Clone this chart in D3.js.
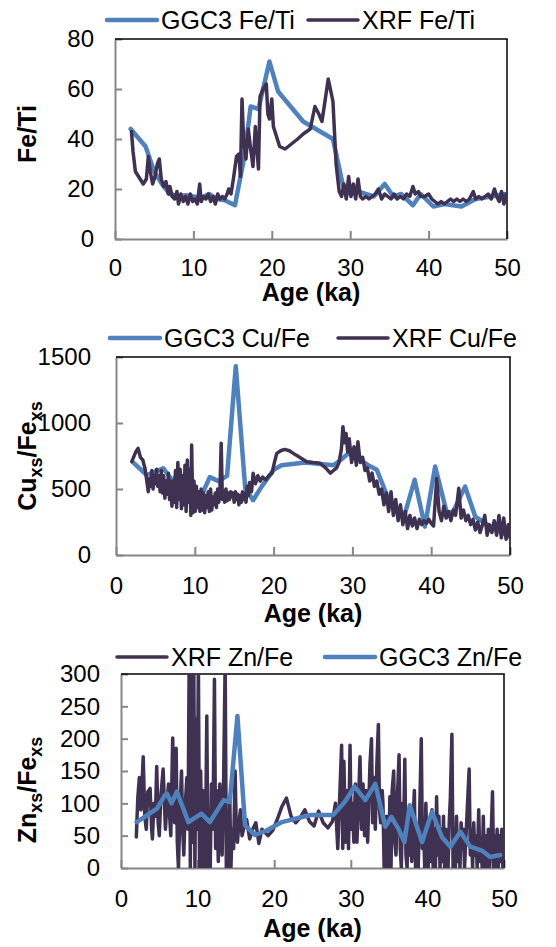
<!DOCTYPE html>
<html><head><meta charset="utf-8">
<script src="https://cdn.jsdelivr.net/npm/d3@7"></script>
<style>body{margin:0;background:#fff}svg{display:block}</style>
</head><body>
<script>
// ---------- DATA ----------
const xTicks = [0, 10, 20, 30, 40, 50];
const feTiTicks = [0, 20, 40, 60, 80];
const cuFeTicks = [0, 500, 1000, 1500];
const znFeTicks = [0, 50, 100, 150, 200, 250, 300];

const ggc3FeTi = [[2.0,44],[3.9,37],[5.0,27],[6.0,22],[7.0,18],[8.0,17],[9.0,17.5],[10.0,17],[11.0,16.5],[12.0,18],[13.0,16],[14.0,15.5],[15.3,13.5],[16.5,33],[17.3,53],[18.3,52],[19.7,71],[20.8,59],[24.0,47],[27.8,40],[29.1,21],[30.0,18],[31.0,19],[32.0,18],[33.0,17],[34.4,22],[35.5,17],[36.5,18],[38.0,13.5],[39.0,18],[40.6,13],[42.0,14],[44.2,13],[46.0,16],[48.0,17],[49.7,18]];
const xrfFeTi = [[2.1,43],[2.3,35],[2.6,27],[3.0,25],[3.6,22],[4.0,24],[4.25,33],[4.5,27],[4.8,22],[5.1,25],[5.4,30],[5.65,32],[5.9,24],[6.2,21],[6.5,23],[6.8,18],[7.0,21],[7.3,17],[7.6,16],[7.9,19],[8.1,14],[8.4,18],[8.7,15],[9.0,17],[9.3,14],[9.6,18],[9.9,15],[10.2,16],[10.5,14],[10.8,22],[11.0,15],[11.3,17],[11.6,16],[11.9,18],[12.2,15],[12.5,17],[12.8,14],[13.1,18],[13.4,16],[13.7,17],[14.0,16],[14.3,18],[14.5,20],[14.8,18],[15.1,24],[15.5,33],[15.8,34],[16.0,25],[16.2,56],[16.4,40],[16.7,32],[17.0,44],[17.3,36],[17.6,29],[17.9,45],[18.1,36],[18.3,28],[18.5,57],[18.9,60],[19.3,62],[19.5,50],[19.7,48],[20.0,56],[20.2,45],[20.6,41],[21.0,37],[21.7,36],[22.5,38],[23.3,40],[24.0,42],[24.9,44],[25.5,53],[26.0,50],[26.4,47],[27.2,64],[27.8,55],[28.2,30],[28.6,19],[28.9,17],[29.2,22],[29.5,16],[29.8,25],[30.1,17],[30.4,22],[30.7,16],[31.0,24],[31.3,17],[31.6,16],[32.0,17],[32.4,16],[32.8,17],[33.2,18],[33.6,20],[34.0,16],[34.4,18],[34.8,17],[35.2,16],[35.6,18],[36.0,16],[36.4,17],[36.8,16],[37.2,18],[37.6,17],[38.0,21],[38.3,18],[38.7,19],[39.0,17],[39.5,17],[40.0,18],[40.4,16],[40.8,15],[41.2,14],[41.6,15],[42.0,14],[42.4,15],[42.8,16],[43.2,15],[43.6,16],[44.0,15],[44.4,16],[44.8,15],[45.2,16],[45.7,19],[46.0,16],[46.4,17],[46.8,16],[47.2,17],[47.6,18],[48.0,16],[48.4,20],[48.7,17],[49.0,15],[49.3,19],[49.6,14],[49.9,18]];

const ggc3CuFe = [[2.2,700],[3.9,606],[6.0,657],[7.2,560],[8.0,630],[9.0,480],[10.0,430],[11.0,470],[11.9,590],[13.0,560],[14.1,600],[15.2,1430],[16.4,505],[17.4,415],[18.5,520],[20.0,645],[21.0,680],[24.0,700],[27.6,680],[28.5,720],[29.5,770],[31.0,720],[32.0,680],[33.1,645],[34.8,390],[36.5,280],[37.9,570],[39.2,215],[40.5,670],[42.0,315],[42.8,330],[44.3,518],[45.6,290],[47.5,215],[49.6,150]];
const xrfCuFe = [[2.0,707],[2.5,780],[2.8,808],[3.1,740],[3.4,720],[3.7,650],[4.1,480],[4.25,580],[4.4,520],[4.55,640],[4.7,500],[4.85,600],[5.0,540],[5.15,650],[5.3,520],[5.45,600],[5.6,480],[5.75,640],[5.9,470],[6.05,600],[6.2,430],[6.35,560],[6.5,460],[6.65,620],[6.8,420],[6.95,560],[7.1,370],[7.25,560],[7.4,400],[7.55,640],[7.7,360],[7.85,700],[8.0,420],[8.15,650],[8.3,350],[8.45,600],[8.6,380],[8.75,680],[8.9,330],[9.05,720],[9.2,400],[9.35,650],[9.5,300],[9.6,833],[9.75,320],[9.9,560],[10.05,330],[10.2,520],[10.35,360],[10.5,480],[10.65,330],[10.8,500],[10.95,340],[11.1,470],[11.25,320],[11.4,450],[11.55,360],[11.7,480],[11.85,330],[12.0,500],[12.15,340],[12.3,440],[12.45,380],[12.6,470],[12.75,360],[12.9,500],[13.05,400],[13.2,520],[13.35,846],[13.5,420],[13.65,480],[13.8,400],[13.95,500],[14.1,410],[14.25,470],[14.4,420],[14.55,480],[14.7,440],[14.85,470],[15.0,400],[15.15,480],[15.3,420],[15.45,460],[15.6,380],[15.75,450],[15.9,400],[16.05,480],[16.2,420],[16.35,470],[16.5,400],[16.65,520],[16.8,450],[16.95,550],[17.2,480],[17.4,620],[17.7,540],[18.0,600],[18.3,560],[18.6,590],[19.0,570],[19.4,600],[19.8,620],[20.1,700],[20.4,770],[20.9,790],[21.4,800],[22.0,790],[22.5,770],[23.3,740],[24.2,707],[25.0,700],[25.9,695],[26.6,660],[27.2,620],[27.6,640],[28.0,660],[28.3,700],[28.6,800],[28.8,972],[29.0,850],[29.2,920],[29.4,780],[29.6,880],[29.9,700],[30.2,820],[30.5,680],[30.7,858],[31.0,700],[31.3,740],[31.6,640],[31.9,660],[32.2,560],[32.5,620],[32.8,520],[33.1,560],[33.4,460],[33.7,500],[34.0,380],[34.3,470],[34.6,330],[34.9,480],[35.2,300],[35.5,420],[35.8,260],[36.1,380],[36.4,230],[36.7,330],[37.0,200],[37.3,300],[37.6,220],[37.9,280],[38.2,200],[38.5,270],[38.8,230],[39.1,260],[39.4,240],[39.7,270],[40.0,240],[40.3,220],[40.7,580],[41.0,330],[41.3,260],[41.6,370],[41.9,280],[42.2,330],[42.5,260],[42.8,340],[43.1,300],[43.5,505],[43.8,280],[44.1,340],[44.4,260],[44.7,300],[45.0,230],[45.3,270],[45.6,190],[45.9,250],[46.2,170],[46.5,230],[46.8,300],[47.1,150],[47.4,230],[47.7,170],[48.0,260],[48.3,150],[48.6,300],[48.9,130],[49.2,280],[49.5,120],[49.8,230],[50.0,130]];

const xrfZnFe = [[2.0,48],[2.2,110],[2.4,140],[2.6,90],[2.9,172],[3.1,80],[3.3,60],[3.5,118],[3.8,123],[4.0,60],[4.1,45],[4.3,100],[4.5,80],[4.66,157],[4.85,70],[5.0,50],[5.2,110],[5.5,153],[5.7,90],[5.8,60],[6.0,100],[6.2,130],[6.35,80],[6.5,50],[6.75,201],[6.9,100],[7.0,70],[7.2,185],[7.35,40],[7.5,0],[7.7,90],[7.9,150],[8.05,60],[8.2,20],[8.4,100],[8.6,140],[8.75,60],[8.9,320],[9.05,0],[9.2,320],[9.35,40],[9.5,320],[9.65,0],[9.8,230],[9.95,60],[10.1,320],[10.25,0],[10.4,150],[10.55,0],[10.7,120],[10.85,20],[11.0,0],[11.2,235],[11.35,0],[11.5,80],[11.65,0],[11.8,130],[12.0,60],[12.2,292],[12.35,30],[12.5,120],[12.7,10],[12.9,130],[13.05,60],[13.2,20],[13.4,140],[13.6,320],[13.75,0],[13.9,60],[14.05,0],[14.2,110],[14.35,0],[14.5,60],[14.7,30],[14.9,150],[15.05,60],[15.2,40],[15.4,70],[15.6,90],[15.8,50],[16.0,60],[16.4,75],[16.8,45],[17.2,60],[17.6,70],[18.0,38],[18.4,60],[18.8,55],[19.2,50],[19.8,58],[20.4,75],[21.0,95],[21.6,108],[22.2,80],[22.8,70],[23.4,78],[24.0,90],[24.6,72],[25.2,65],[25.8,88],[26.4,70],[27.0,62],[27.6,72],[28.0,100],[28.3,30],[28.8,190],[28.95,30],[29.1,165],[29.3,40],[29.5,120],[29.7,30],[29.9,190],[30.05,60],[30.2,100],[30.4,40],[30.6,130],[30.8,40],[31.0,100],[31.2,172],[31.4,60],[31.6,130],[31.8,50],[32.0,120],[32.2,40],[32.5,160],[32.7,200],[32.85,70],[33.0,140],[33.2,60],[33.4,160],[33.6,222],[33.75,90],[33.9,70],[34.1,120],[34.2,100],[34.35,0],[34.5,0],[34.65,80],[34.8,60],[34.95,0],[35.1,110],[35.25,0],[35.4,120],[35.6,150],[35.75,40],[35.9,20],[36.05,100],[36.3,175],[36.45,30],[36.6,0],[36.75,100],[36.9,60],[37.05,168],[37.2,20],[37.35,0],[37.5,90],[37.65,20],[37.8,80],[37.95,10],[38.1,70],[38.3,120],[38.45,0],[38.6,60],[38.8,0],[39.0,90],[39.2,200],[39.35,30],[39.5,60],[39.65,0],[39.8,100],[39.95,20],[40.1,0],[40.3,70],[40.45,10],[40.6,90],[40.75,0],[40.9,60],[41.05,0],[41.2,110],[41.35,20],[41.5,80],[41.65,0],[41.8,60],[41.95,10],[42.1,80],[42.25,0],[42.4,60],[42.55,30],[42.7,0],[42.85,70],[43.0,110],[43.2,207],[43.35,0],[43.5,60],[43.65,0],[43.8,80],[43.95,10],[44.1,50],[44.25,0],[44.4,70],[44.55,30],[44.7,60],[44.85,0],[45.0,40],[45.2,90],[45.45,153],[45.6,20],[45.75,60],[45.9,0],[46.05,70],[46.2,20],[46.35,50],[46.5,0],[46.7,90],[46.85,10],[47.0,40],[47.15,0],[47.3,80],[47.45,0],[47.6,50],[47.8,0],[47.95,60],[48.1,0],[48.3,40],[48.5,118],[48.65,0],[48.8,50],[48.95,0],[49.1,60],[49.25,0],[49.4,50],[49.55,10],[49.7,60],[49.85,0]];
const ggc3ZnFe = [[2.05,71],[4.7,92],[5.7,112],[6.0,115],[6.6,100],[7.3,118],[8.8,71],[10.5,84],[11.6,71],[13.4,105],[14.2,102],[15.2,235],[16.2,66],[17.5,51],[19.0,58],[21.0,71],[24.7,82],[27.7,82],[29.2,102],[30.5,126],[31.9,105],[33.2,130],[34.5,64],[35.3,79],[36.2,61],[37.0,40],[37.7,97],[39.3,40],[40.6,87],[41.9,48],[43.0,33],[44.3,56],[45.6,33],[47.1,27],[48.2,17],[49.5,20]];

const xTitle = "Age (ka)";

// ---------- STYLE ----------
const BLUE = "#4f81bd", DARK = "#3f3151", AXIS = "#868686";
const FONT = "'Liberation Sans', Arial, sans-serif";

const svg = d3.select("body").append("svg").attr("width", 556).attr("height", 947)
  .style("font-family", FONT);

function panel(cfg) {
  const x = d3.scaleLinear().domain([0, 50]).range([cfg.l, cfg.r]);
  const y = d3.scaleLinear().domain(cfg.yDomain).range([cfg.b, cfg.t]);
  const g = svg.append("g");
  const clipId = "clip" + cfg.id;
  svg.append("clipPath").attr("id", clipId).append("rect")
    .attr("x", cfg.l).attr("y", cfg.t).attr("width", cfg.r - cfg.l).attr("height", cfg.b - cfg.t);

  // axes
  const ax = g.append("g").attr("transform", `translate(0,${cfg.b})`)
    .call(d3.axisBottom(x).tickValues(xTicks).tickFormat(d3.format("d"))
      .tickSizeInner(-8).tickSizeOuter(0).tickPadding(cfg.xPad));
  const ay = g.append("g").attr("transform", `translate(${cfg.l},0)`)
    .call(d3.axisLeft(y).tickValues(cfg.yTicks).tickFormat(d3.format("d"))
      .tickSizeInner(-7).tickSizeOuter(0).tickPadding(cfg.yPad));
  [ax, ay].forEach(a => {
    a.select(".domain").attr("stroke", AXIS).attr("stroke-width", 2);
    a.selectAll(".tick line").attr("stroke", AXIS).attr("stroke-width", 2);
    a.selectAll(".tick text").attr("fill", "#000").style("font-size", "24px").style("font-family", FONT);
  });
  // top and right border
  g.append("line").attr("x1", cfg.l).attr("x2", cfg.r + 0.75).attr("y1", cfg.t).attr("y2", cfg.t)
    .attr("stroke", "#000").attr("stroke-width", 1.5);
  g.append("line").attr("x1", cfg.r).attr("x2", cfg.r).attr("y1", cfg.t).attr("y2", cfg.b)
    .attr("stroke", "#000").attr("stroke-width", 1.5);

  // series
  const line = d3.line().x(d => x(d[0])).y(d => y(d[1]));
  const lg = g.append("g").attr("clip-path", `url(#${clipId})`);
  cfg.series.forEach(s => {
    lg.append("path").datum(s.data).attr("d", line).attr("fill", "none")
      .attr("stroke", s.color).attr("stroke-width", s.w)
      .attr("stroke-linejoin", "round").attr("stroke-linecap", "round");
  });

  // legend
  cfg.legend.forEach(it => {
    g.append("line").attr("x1", it.x).attr("x2", it.x + 50).attr("y1", cfg.legY).attr("y2", cfg.legY)
      .attr("stroke", it.color).attr("stroke-width", it.w).attr("stroke-linecap", "round");
    g.append("text").attr("x", it.x + 54).attr("y", cfg.legY + 9).text(it.label)
      .style("font-size", "25px").attr("fill", "#000");
  });

  // x title
  g.append("text").attr("x", (cfg.l + cfg.r) / 2).attr("y", cfg.titleY).attr("text-anchor", "middle")
    .style("font-size", "25px").style("font-weight", "bold").text(xTitle);

  // y title
  const yt = g.append("text").attr("transform", `translate(36,${cfg.yTitleC}) rotate(-90)`)
    .attr("text-anchor", "middle").style("font-size", "25px").style("font-weight", "bold");
  cfg.yTitle.forEach(p => {
    const t = yt.append("tspan").text(p.t);
    if (p.sub) t.style("font-size", "18px").attr("dy", p.dy);
    else if (p.dy) t.attr("dy", p.dy);
  });
}

panel({
  id: 1, l: 115, r: 507, t: 39, b: 239, yDomain: [0, 80], yTicks: feTiTicks, xPad: 20, yPad: 21,
  titleY: 301, yTitleC: 134,
  yTitle: [{ t: "Fe/Ti" }],
  series: [{ data: ggc3FeTi, color: BLUE, w: 4.5 }, { data: xrfFeTi, color: DARK, w: 3.5 }],
  legY: 20,
  legend: [{ x: 107, color: BLUE, w: 4.5, label: "GGC3 Fe/Ti" }, { x: 308, color: DARK, w: 3.5, label: "XRF Fe/Ti" }]
});

panel({
  id: 2, l: 116, r: 510, t: 357, b: 555, yDomain: [0, 1500], yTicks: cuFeTicks, xPad: 22, yPad: 25,
  titleY: 622, yTitleC: 456,
  yTitle: [{ t: "Cu" }, { t: "xs", sub: true, dy: 6 }, { t: "/Fe", dy: -6 }, { t: "xs", sub: true, dy: 6 }],
  series: [{ data: ggc3CuFe, color: BLUE, w: 4.5 }, { data: xrfCuFe, color: DARK, w: 3.5 }],
  legY: 338,
  legend: [{ x: 110, color: BLUE, w: 4.5, label: "GGC3 Cu/Fe" }, { x: 338, color: DARK, w: 3.5, label: "XRF Cu/Fe" }]
});

panel({
  id: 3, l: 121, r: 504, t: 674, b: 868, yDomain: [0, 300], yTicks: znFeTicks, xPad: 22, yPad: 21,
  titleY: 937, yTitleC: 790,
  yTitle: [{ t: "Zn" }, { t: "xs", sub: true, dy: 6 }, { t: "/Fe", dy: -6 }, { t: "xs", sub: true, dy: 6 }],
  series: [{ data: xrfZnFe, color: DARK, w: 3.5 }, { data: ggc3ZnFe, color: BLUE, w: 4.5 }],
  legY: 657,
  legend: [{ x: 117, color: DARK, w: 3.5, label: "XRF Zn/Fe" }, { x: 325, color: BLUE, w: 4.5, label: "GGC3 Zn/Fe" }]
});
</script>
</body></html>
